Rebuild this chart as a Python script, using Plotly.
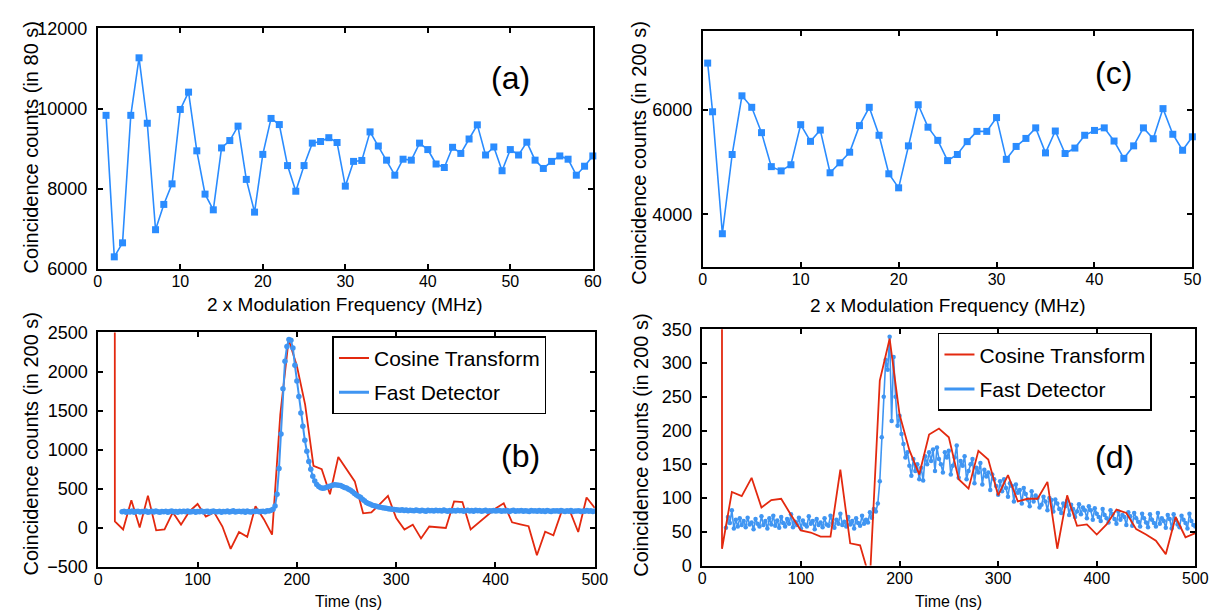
import plotly.graph_objects as go

W, H = 1225, 616
FONT = "Liberation Sans, Arial, sans-serif"

# ---------------- data ----------------
# (a) 2 x modulation frequency (MHz) vs counts in 80 s
freq_a = list(range(1, 61))
counts_a = [9830, 6300, 6650, 9830, 11265, 9633, 6977, 7608, 8121, 9977,
            10409, 8945, 7865, 7473, 9017, 9201, 9561, 8232, 7416, 8856,
            9753, 9600, 8577, 7937, 8577, 9137, 9177, 9273, 9153, 8064,
            8681, 8705, 9417, 9065, 8712, 8337, 8736, 8712, 9137, 8976,
            8616, 8529, 9033, 8880, 9240, 9593, 8841, 9041, 8448, 8976,
            8841, 9161, 8712, 8505, 8681, 8817, 8736, 8337, 8561, 8817]

# (c) 2 x modulation frequency (MHz) vs counts in 200 s
freq_c = [0.5] + list(range(1, 51))
counts_c = [6886, 5958, 3633, 5143, 6262, 6043, 5560, 4912, 4831, 4948,
            5712, 5394, 5609, 4795, 4985, 5187, 5694, 6043, 5510, 4776,
            4508, 5308, 6092, 5664, 5413, 5027, 5143, 5389, 5584, 5584,
            5847, 5051, 5297, 5450, 5651, 5174, 5591, 5162, 5266, 5510,
            5602, 5651, 5400, 5070, 5308, 5651, 5444, 6018, 5529, 5224,
            5481]

# (b) cosine transform (time in ns)
time_ct_b = [15.9, 16.7, 25.0, 33.3, 41.7, 50.0, 58.3, 66.7, 75.0, 83.3,
             91.7, 100.0, 108.3, 116.7, 125.0, 133.3, 141.7, 150.0, 158.3, 166.7,
             175.0, 183.3, 191.7, 200.0, 208.3, 216.7, 225.0, 233.3, 241.7, 250.0,
             258.3, 266.7, 275.0, 283.3, 291.7, 300.0, 308.3, 316.7, 325.0, 333.3,
             341.7, 350.0, 358.3, 366.7, 375.0, 383.3, 391.7, 400.0, 408.3, 416.7,
             425.0, 433.3, 441.7, 450.0, 458.3, 466.7, 475.0, 483.3, 491.7, 500.0]
cosine_b = [30000, 82, -21, 354, 4, 412, -33, -21, 198, 41,
            210, 305, 144, 198, 16, -269, -54, -116, 276, 111,
            -87, 1452, 2409, 2071, 1576, 792, 750, 429, 907, 750,
            594, 185, 198, 300, 408, 124, -21, 41, -136, 16,
            8, -2, 338, 330, -21, 70, 160, 247, 313, 70,
            45, 20, -351, -50, -95, 214, 214, -54, 388, 255]

# fast detector time grid (ns), shared by (b) and (d)
time_fd = list(range(24, 501, 2))
fast_b = [205, 212, 198, 210, 203, 215, 200, 208, 213, 201,
          209, 204, 216, 199, 207, 211, 202, 214, 205, 198,
          210, 206, 213, 200, 208, 215, 203, 209, 198, 212,
          204, 211, 207, 216, 201, 206, 213, 199, 210, 205,
          214, 202, 208, 211, 197, 209, 215, 204, 207, 212,
          200, 210, 206, 214, 203, 209, 217, 201, 208, 212,
          205, 211, 199, 214, 207, 203, 212, 208, 216, 204,
          210, 213, 206, 218, 215, 225, 238, 280, 430, 760,
          1200, 1780, 2130, 2320, 2410, 2400, 2300, 2080, 1880, 1680,
          1470, 1300, 1120, 980, 850, 750, 660, 600, 555, 530,
          512, 505, 508, 520, 530, 536, 545, 550, 548, 545,
          540, 530, 515, 510, 495, 480, 462, 440, 420, 405,
          390, 365, 345, 325, 310, 300, 290, 282, 275, 268,
          262, 258, 252, 250, 245, 240, 236, 233, 230, 228,
          226, 230, 221, 227, 219, 225, 222, 218, 228, 220,
          216, 224, 219, 213, 226, 218, 222, 215, 225, 217,
          221, 214, 227, 218, 212, 223, 216, 220, 214, 225,
          218, 222, 213, 219, 226, 215, 221, 212, 224, 217,
          220, 213, 218, 225, 211, 219, 216, 222, 214, 218,
          223, 212, 219, 215, 221, 210, 217, 224, 213, 218,
          215, 222, 211, 219, 216, 209, 221, 214, 218, 212,
          220, 213, 217, 210, 222, 215, 208, 219, 214, 218,
          211, 220, 215, 209, 218, 213, 221, 210, 216, 214,
          219, 208, 215, 212, 220, 211, 217, 209, 214]

# (d) cosine transform (time in ns)
time_ct_d = [19.8, 20, 30, 40, 50, 60, 70, 80, 90, 100,
             110, 120, 130, 140, 150, 160, 170, 180, 190, 200,
             210, 220, 230, 240, 250, 260, 270, 280, 290, 300,
             310, 320, 330, 340, 350, 360, 370, 380, 390, 400,
             410, 420, 430, 440, 450, 460, 470, 480, 490, 500]
cosine_d = [5000, 25, 109, 103, 130, 86, 97, 99, 75, 52,
            49, 43, 43, 142, 33, 30, -20, 274, 336, 224,
            171, 135, 194, 203, 190, 128, 114, 170, 157, 104,
            134, 95, 99, 99, 124, 25, 104, 59, 61, 46,
            61, 83, 78, 54, 46, 37, 17, 72, 42, 48]
fast_d = [56, 72, 63, 82, 55, 68, 58, 70, 60, 66,
          57, 71, 61, 64, 54, 69, 62, 58, 73, 60,
          66, 55, 70, 61, 74, 59, 67, 56, 72, 63,
          58, 69, 62, 76, 57, 65, 60, 71, 55, 67,
          61, 58, 73, 62, 66, 54, 69, 60, 64, 57,
          70, 61, 59, 74, 63, 56, 68, 62, 77, 60,
          65, 58, 72, 61, 66, 55, 70, 63, 59, 74,
          62, 68, 64, 79, 71, 84, 80, 92, 125, 190,
          250, 305, 290, 339, 214, 309, 250, 207, 222, 195,
          180, 160, 168, 148, 133, 158, 140, 150, 128, 145,
          126, 162, 150, 168, 155, 172, 140, 175, 158, 150,
          138, 168, 160, 170, 135, 148, 160, 178, 130, 155,
          148, 162, 128, 140, 150, 158, 122, 145, 138, 152,
          120, 142, 132, 138, 112, 135, 128, 118, 105, 125,
          110, 128, 115, 102, 122, 118, 95, 120, 108, 112,
          92, 115, 106, 98, 88, 110, 95, 104, 100, 86,
          90, 102, 95, 82, 100, 97, 80, 98, 92, 84,
          78, 92, 88, 96, 75, 90, 84, 72, 80, 91,
          76, 86, 82, 70, 88, 82, 68, 85, 77, 72,
          66, 84, 75, 70, 64, 82, 76, 69, 62, 80,
          68, 75, 72, 60, 79, 73, 59, 78, 70, 65,
          58, 77, 70, 64, 57, 76, 68, 63, 58, 78,
          62, 70, 66, 56, 75, 69, 55, 76, 68, 61,
          57, 74, 68, 63, 55, 77, 66, 60, 58]

freq_ticks_a = [0, 10, 20, 30, 40, 50, 60]
freq_ticks_c = [0, 10, 20, 30, 40, 50]
ytick_a = [6000, 8000, 10000, 12000]
ytick_c = [4000, 6000]
ytick_b = [-500, 0, 500, 1000, 1500, 2000, 2500]
ytick_d = [0, 50, 100, 150, 200, 250, 300, 350]
time_ticks = [0, 100, 200, 300, 400, 500]

# ---------------- styling ----------------
BLUE_SQ = "#2a8cff"
BLUE_FD = "#3f95f2"
RED = "#e3290f"


def xd(a, b):
    return [a / W, b / W]


def yd(top, bottom):
    return [1 - bottom / H, 1 - top / H]


fig = go.Figure()

# (a)
fig.add_trace(go.Scatter(x=freq_a, y=counts_a, mode="lines+markers",
                         line=dict(color=BLUE_SQ, width=1.6),
                         marker=dict(symbol="square", size=7, color=BLUE_SQ),
                         cliponaxis=False, showlegend=False,
                         xaxis="x", yaxis="y"))
# (c)
fig.add_trace(go.Scatter(x=freq_c, y=counts_c, mode="lines+markers",
                         line=dict(color=BLUE_SQ, width=1.6),
                         marker=dict(symbol="square", size=7, color=BLUE_SQ),
                         cliponaxis=False, showlegend=False,
                         xaxis="x2", yaxis="y2"))
# (b)
fig.add_trace(go.Scatter(x=time_ct_b, y=cosine_b, mode="lines",
                         line=dict(color=RED, width=1.8),
                         showlegend=False, xaxis="x3", yaxis="y3"))
fig.add_trace(go.Scatter(x=time_fd, y=fast_b, mode="lines+markers",
                         line=dict(color=BLUE_FD, width=2),
                         marker=dict(size=5.5, color=BLUE_FD),
                         showlegend=False, xaxis="x3", yaxis="y3"))
# (d)
fig.add_trace(go.Scatter(x=time_fd, y=fast_d, mode="lines+markers",
                         line=dict(color=BLUE_FD, width=1.6),
                         marker=dict(size=4.5, color=BLUE_FD),
                         showlegend=False, xaxis="x4", yaxis="y4"))
fig.add_trace(go.Scatter(x=time_ct_d, y=cosine_d, mode="lines",
                         line=dict(color=RED, width=1.8),
                         showlegend=False, xaxis="x4", yaxis="y4"))

# legend entries
for lg, xa, ya in (("legend", "x3", "y3"), ("legend2", "x4", "y4")):
    fig.add_trace(go.Scatter(x=[None], y=[None], mode="lines", name="Cosine Transform",
                             line=dict(color=RED, width=2), legend=lg, legendgroup=lg + "ct",
                             xaxis=xa, yaxis=ya))
    fig.add_trace(go.Scatter(x=[None], y=[None], mode="lines", name="Fast Detector",
                             line=dict(color=BLUE_FD, width=3), legend=lg, legendgroup=lg + "fd",
                             xaxis=xa, yaxis=ya))

axis_common = dict(showline=True, linecolor="black", linewidth=2, mirror="ticks",
                   ticks="inside", ticklen=5, tickwidth=1.5, tickcolor="black",
                   showgrid=False, zeroline=False, tickformat="d",
                   tickfont=dict(family=FONT, size=16, color="black"))
yfont = dict(family=FONT, size=18, color="black")


def xax(**kw):
    d = dict(axis_common)
    d["ticklabelstandoff"] = -3
    d.update(kw)
    return d


def yax(**kw):
    d = dict(axis_common)
    d["tickfont"] = yfont
    d["ticklabelstandoff"] = 5
    d.update(kw)
    return d


fig.update_layout(
    width=W, height=H, margin=dict(l=0, r=0, t=0, b=0),
    paper_bgcolor="white", plot_bgcolor="white",
    font=dict(family=FONT, color="black"),
    xaxis=xax(domain=xd(87, 589), range=[0, 60], tickvals=freq_ticks_a, anchor="y"),
    yaxis=yax(domain=yd(10.7, 259.3), range=[6000, 12000], tickvals=ytick_a, anchor="x"),
    xaxis2=xax(domain=xd(700.5, 1197), range=[0, 50], tickvals=freq_ticks_c, anchor="y2"),
    yaxis2=yax(domain=yd(13.3, 257.3), range=[3000, 7500], tickvals=ytick_c, anchor="x2"),
    xaxis3=xax(domain=xd(87.5, 591), range=[0, 500], tickvals=time_ticks, anchor="y3"),
    yaxis3=yax(domain=yd(325, 567.3), range=[-500, 2500], tickvals=ytick_b, anchor="x3"),
    xaxis4=xax(domain=xd(700, 1200), range=[0, 500], tickvals=time_ticks, anchor="y4"),
    yaxis4=yax(domain=yd(321.7, 566), range=[0, 350], tickvals=ytick_d, anchor="x4"),
    legend=dict(x=325 / W, y=1 - 329 / H, xanchor="left", yanchor="top",
                bordercolor="black", borderwidth=1.5, bgcolor="white", tracegroupgap=4,
                font=dict(family=FONT, size=21, color="black")),
    legend2=dict(x=939 / W, y=1 - 325.5 / H, xanchor="left", yanchor="top",
                 bordercolor="black", borderwidth=1.5, bgcolor="white", tracegroupgap=4,
                 font=dict(family=FONT, size=21, color="black")),
)


def ann(text, x, y, size, angle=0):
    fig.add_annotation(text=text, x=x / W, y=1 - y / H, xref="paper", yref="paper",
                       showarrow=False, textangle=angle, xanchor="center", yanchor="middle",
                       font=dict(family=FONT, size=size, color="black"))


ann("Coincidence counts (in 80 s)", 19, 134, 20, -90)
ann("Coincidence counts (in 200 s)", 636, 140, 20, -90)
ann("Coincidence counts (in 200 s)", 19, 440, 20, -90)
ann("Coincidence counts (in 200 s)", 637, 442, 20, -90)
ann("2 x Modulation Frequency (MHz)", 338, 296, 19)
ann("2 x Modulation Frequency (MHz)", 949, 297, 19)
ann("Time (ns)", 341, 603, 16)
ann("Time (ns)", 950, 603, 16)
ann("(a)", 506, 62, 32)
ann("(c)", 1117, 57, 32)
ann("(b)", 516, 453, 32)
ann("(d)", 1118, 454, 32)

fig.write_html("out.html")
